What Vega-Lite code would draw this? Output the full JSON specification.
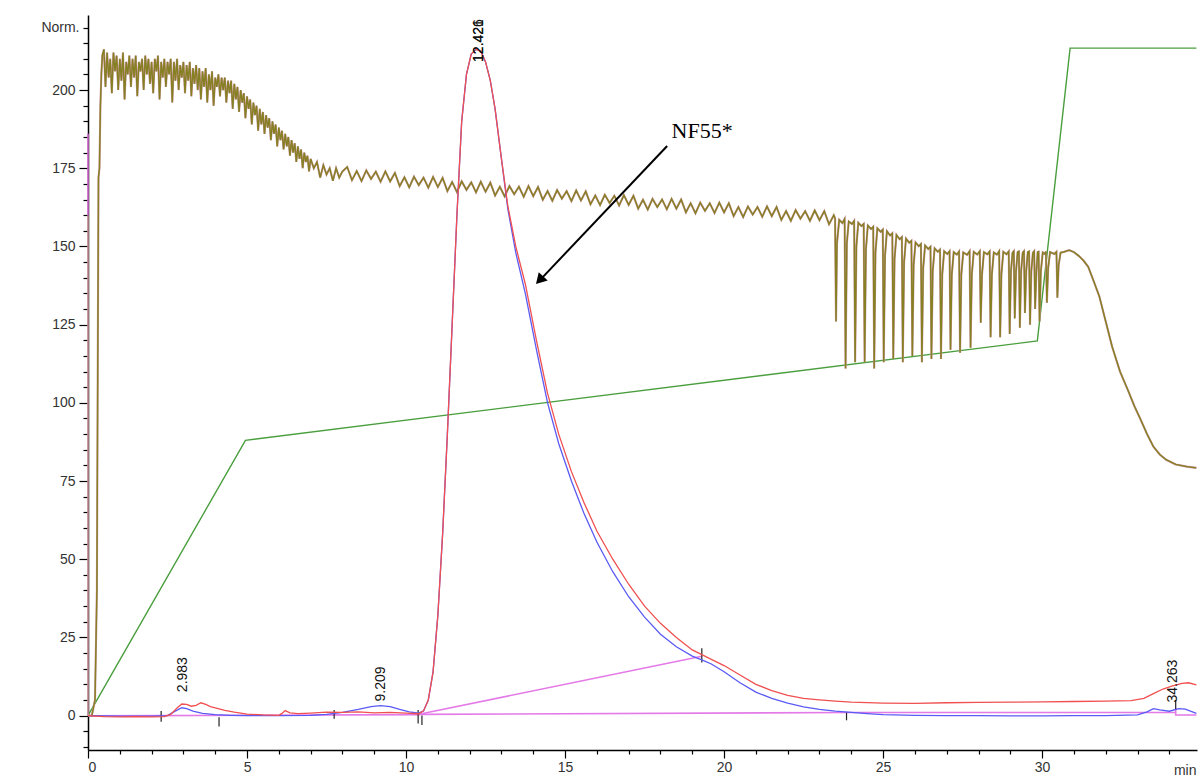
{
"$schema": "https://vega.github.io/schema/vega-lite/v6.json",
"width": 1109, "height": 735,
"autosize": {"type": "none"},
"padding": {"left": 88, "top": 15, "right": 5, "bottom": 33},
"background": "white",
"config": {"view": {"stroke": null}, "font": "Liberation Sans"},
"datasets": {
"green": [{"t":0,"v":0},{"t":4.95,"v":88},{"t":29.85,"v":119.8},{"t":30.88,"v":213.4},{"t":34.85,"v":213.4}],
"pink": [
{"s":"a","o":1,"t":0.1,"v":-0.1},{"s":"a","o":2,"t":10.45,"v":0.3},
{"s":"b","o":1,"t":10.45,"v":0.5},{"s":"b","o":2,"t":19.3,"v":19},
{"s":"c","o":1,"t":10.45,"v":0.4},{"s":"c","o":2,"t":23.85,"v":1.0},{"s":"c","o":3,"t":34.2,"v":1.0},
{"s":"d","o":1,"t":34.2,"v":2.5},{"s":"d","o":2,"t":34.2,"v":0.2},{"s":"d","o":3,"t":34.85,"v":0.2},
{"s":"e","o":1,"t":0,"v":160},{"s":"e","o":2,"t":0,"v":186},
{"s":"f","o":1,"t":0,"v":0},{"s":"f","o":2,"t":0,"v":160}],
"ticks": [{"t":2.3,"v":-2,"v2":1.5},{"t":4.12,"v":-3.5,"v2":-0.5},{"t":7.74,"v":-1,"v2":1.8},{"t":10.38,"v":-2.5,"v2":1.8},{"t":10.5,"v":-3,"v2":0},{"t":19.3,"v":17,"v2":21.5},{"t":23.85,"v":-1.5,"v2":1},{"t":34.2,"v":2,"v2":5}],
"brown": [
{"t":0,"v":0},{"t":0.12,"v":0},{"t":0.22,"v":5},{"t":0.28,"v":40},{"t":0.31,"v":120},{"t":0.33,"v":172},{"t":0.36,"v":175},{"t":0.39,"v":195},{"t":0.42,"v":205},
{"t":0.45,"v":211},{"t":0.50,"v":213},{"t":0.55,"v":201},{"t":0.60,"v":212},{"t":0.65,"v":204},{"t":0.70,"v":210},{"t":0.75,"v":199},{"t":0.80,"v":212},{"t":0.85,"v":206},{"t":0.90,"v":211},{"t":0.95,"v":200},
{"t":1.00,"v":210},{"t":1.05,"v":203},{"t":1.10,"v":212},{"t":1.15,"v":197},{"t":1.20,"v":209},{"t":1.25,"v":205},{"t":1.30,"v":211},{"t":1.35,"v":201},{"t":1.40,"v":210},{"t":1.45,"v":204},{"t":1.50,"v":211},{"t":1.55,"v":198},{"t":1.60,"v":209},{"t":1.65,"v":206},{"t":1.70,"v":210},{"t":1.75,"v":200},{"t":1.80,"v":211},{"t":1.85,"v":205},{"t":1.90,"v":210},{"t":1.95,"v":202},
{"t":2.00,"v":209},{"t":2.05,"v":199},{"t":2.10,"v":210},{"t":2.15,"v":206},{"t":2.20,"v":211},{"t":2.25,"v":197},{"t":2.30,"v":209},{"t":2.35,"v":204},{"t":2.40,"v":210},{"t":2.45,"v":201},{"t":2.50,"v":209},{"t":2.55,"v":205},{"t":2.60,"v":210},{"t":2.65,"v":196},{"t":2.70,"v":209},{"t":2.75,"v":203},{"t":2.80,"v":210},{"t":2.85,"v":200},{"t":2.90,"v":208},{"t":2.95,"v":204},
{"t":3.00,"v":209},{"t":3.05,"v":199},{"t":3.10,"v":208},{"t":3.15,"v":203},{"t":3.20,"v":209},{"t":3.25,"v":198},{"t":3.30,"v":207},{"t":3.35,"v":202},{"t":3.40,"v":208},{"t":3.45,"v":200},{"t":3.50,"v":207},{"t":3.55,"v":197},{"t":3.60,"v":206},{"t":3.65,"v":201},{"t":3.70,"v":207},{"t":3.75,"v":196},{"t":3.80,"v":205},{"t":3.85,"v":200},{"t":3.90,"v":206},{"t":3.95,"v":195},
{"t":4.00,"v":204},{"t":4.05,"v":201},{"t":4.10,"v":205},{"t":4.15,"v":198},{"t":4.20,"v":204},{"t":4.25,"v":200},{"t":4.30,"v":204},{"t":4.35,"v":196},{"t":4.40,"v":203},{"t":4.45,"v":199},{"t":4.50,"v":203},{"t":4.55,"v":194},{"t":4.60,"v":202},{"t":4.65,"v":197},{"t":4.70,"v":201},{"t":4.75,"v":193},{"t":4.80,"v":200},{"t":4.85,"v":196},{"t":4.90,"v":199},{"t":4.95,"v":191},
{"t":5.00,"v":198},{"t":5.05,"v":194},{"t":5.10,"v":197},{"t":5.15,"v":189},{"t":5.20,"v":196},{"t":5.25,"v":192},{"t":5.30,"v":195},{"t":5.35,"v":187},{"t":5.40,"v":194},{"t":5.45,"v":189},{"t":5.50,"v":193},{"t":5.55,"v":186},{"t":5.60,"v":192},{"t":5.65,"v":188},{"t":5.70,"v":191},{"t":5.75,"v":184},{"t":5.80,"v":190},{"t":5.85,"v":186},{"t":5.90,"v":189},{"t":5.95,"v":182},
{"t":6.00,"v":188},{"t":6.05,"v":184},{"t":6.10,"v":187},{"t":6.15,"v":181},{"t":6.20,"v":186},{"t":6.25,"v":182},{"t":6.30,"v":185},{"t":6.35,"v":179},{"t":6.40,"v":184},{"t":6.45,"v":180},{"t":6.50,"v":183},{"t":6.55,"v":177},{"t":6.60,"v":182},{"t":6.65,"v":178},{"t":6.70,"v":181},{"t":6.75,"v":175},{"t":6.80,"v":180},{"t":6.85,"v":177},{"t":6.90,"v":179},{"t":6.95,"v":174},
{"t":7.00,"v":178},{"t":7.10,"v":175},{"t":7.20,"v":177},{"t":7.30,"v":172},{"t":7.40,"v":176},{"t":7.50,"v":173},{"t":7.60,"v":175},{"t":7.70,"v":171},{"t":7.80,"v":175},{"t":7.90,"v":172},{"t":8.00,"v":174},
{"t":8.15,"v":175.4},{"t":8.30,"v":171.2},{"t":8.45,"v":174.1},{"t":8.60,"v":170.9},{"t":8.75,"v":174.3},{"t":8.90,"v":171.6},{"t":9.05,"v":173.9},{"t":9.20,"v":170.7},{"t":9.35,"v":174.0},{"t":9.50,"v":170.8},{"t":9.65,"v":173.5},{"t":9.80,"v":169.3},{"t":9.95,"v":172.1},
{"t":10.10,"v":168.9},{"t":10.25,"v":172.3},{"t":10.40,"v":169.6},{"t":10.55,"v":172.0},{"t":10.70,"v":168.8},{"t":10.85,"v":172.2},{"t":11.00,"v":169.0},{"t":11.15,"v":171.9},{"t":11.30,"v":167.7},{"t":11.45,"v":170.6},{"t":11.60,"v":167.4},{"t":11.75,"v":170.8},{"t":11.90,"v":168.1},
{"t":12.05,"v":170.5},{"t":12.20,"v":167.3},{"t":12.35,"v":170.7},{"t":12.50,"v":167.5},{"t":12.65,"v":170.4},{"t":12.80,"v":166.3},{"t":12.95,"v":169.1},{"t":13.10,"v":166.0},{"t":13.25,"v":169.3},{"t":13.40,"v":166.7},{"t":13.55,"v":169.1},{"t":13.70,"v":165.9},{"t":13.85,"v":169.3},
{"t":14.00,"v":166.1},{"t":14.15,"v":169.0},{"t":14.30,"v":164.9},{"t":14.45,"v":167.7},{"t":14.60,"v":164.6},{"t":14.75,"v":168.0},{"t":14.90,"v":165.3},{"t":15.05,"v":167.7},{"t":15.20,"v":164.5},{"t":15.35,"v":167.9},{"t":15.50,"v":164.7},{"t":15.65,"v":167.6},{"t":15.80,"v":163.5},{"t":15.95,"v":166.3},
{"t":16.10,"v":163.2},{"t":16.25,"v":166.5},{"t":16.40,"v":163.9},{"t":16.55,"v":166.2},{"t":16.70,"v":163.1},{"t":16.85,"v":166.4},{"t":17.00,"v":163.3},{"t":17.15,"v":166.2},{"t":17.30,"v":162.1},{"t":17.45,"v":164.9},{"t":17.60,"v":161.8},{"t":17.75,"v":165.2},{"t":17.90,"v":162.6},
{"t":18.05,"v":165.0},{"t":18.20,"v":161.9},{"t":18.35,"v":165.2},{"t":18.50,"v":162.1},{"t":18.65,"v":165.0},{"t":18.80,"v":160.9},{"t":18.95,"v":163.8},{"t":19.10,"v":160.6},{"t":19.25,"v":164.0},{"t":19.40,"v":161.4},{"t":19.55,"v":163.8},{"t":19.70,"v":160.7},{"t":19.85,"v":164.0},
{"t":20.00,"v":160.9},{"t":20.15,"v":163.8},{"t":20.30,"v":159.7},{"t":20.45,"v":162.6},{"t":20.60,"v":159.4},{"t":20.75,"v":162.8},{"t":20.90,"v":160.2},{"t":21.05,"v":162.6},{"t":21.20,"v":159.5},{"t":21.35,"v":162.8},{"t":21.50,"v":159.7},{"t":21.65,"v":162.6},{"t":21.80,"v":158.5},{"t":21.95,"v":161.3},
{"t":22.10,"v":158.2},{"t":22.25,"v":161.6},{"t":22.40,"v":158.9},{"t":22.55,"v":161.3},{"t":22.70,"v":158.2},{"t":22.85,"v":161.5},{"t":23.00,"v":158.4},{"t":23.15,"v":161.3},{"t":23.30,"v":157.1},{"t":23.45,"v":160.0},
{"t":23.49,"v":159},{"t":23.52,"v":126},{"t":23.55,"v":151},{"t":23.62,"v":158.5},{"t":23.72,"v":157.5},
{"t":23.79,"v":158.8},{"t":23.82,"v":111},{"t":23.86,"v":151},{"t":23.92,"v":158},{"t":24.02,"v":157.2},
{"t":24.09,"v":158.2},{"t":24.12,"v":113},{"t":24.16,"v":150},{"t":24.22,"v":157.6},{"t":24.32,"v":156.5},
{"t":24.39,"v":157.2},{"t":24.42,"v":113},{"t":24.46,"v":149},{"t":24.52,"v":156.7},{"t":24.62,"v":155.6},
{"t":24.69,"v":156.3},{"t":24.72,"v":111},{"t":24.76,"v":148},{"t":24.82,"v":155.8},{"t":24.92,"v":154.7},
{"t":24.99,"v":155.4},{"t":25.02,"v":113},{"t":25.06,"v":147},{"t":25.12,"v":154.9},{"t":25.22,"v":153.5},
{"t":25.29,"v":154.2},{"t":25.32,"v":114},{"t":25.36,"v":146},{"t":25.42,"v":153.7},{"t":25.52,"v":152.3},
{"t":25.59,"v":153.0},{"t":25.62,"v":113},{"t":25.66,"v":145},{"t":25.72,"v":152.5},{"t":25.82,"v":151.2},
{"t":25.89,"v":151.8},{"t":25.92,"v":115},{"t":25.96,"v":144},{"t":26.02,"v":151.3},{"t":26.12,"v":150.1},
{"t":26.19,"v":150.8},{"t":26.22,"v":113},{"t":26.26,"v":143},{"t":26.32,"v":150.3},{"t":26.42,"v":149.2},
{"t":26.49,"v":149.9},{"t":26.52,"v":114},{"t":26.56,"v":142},{"t":26.62,"v":149.4},{"t":26.72,"v":148.3},
{"t":26.79,"v":149.0},{"t":26.82,"v":114},{"t":26.86,"v":141},{"t":26.92,"v":148.5},{"t":27.02,"v":147.6},
{"t":27.09,"v":148.5},{"t":27.12,"v":117},{"t":27.16,"v":141},{"t":27.22,"v":148.2},{"t":27.32,"v":147.4},
{"t":27.39,"v":148.4},{"t":27.42,"v":116},{"t":27.46,"v":141},{"t":27.52,"v":148.1},{"t":27.64,"v":147.3},
{"t":27.72,"v":148.5},{"t":27.75,"v":117.6},{"t":27.79,"v":141},{"t":27.85,"v":148.3},{"t":27.96,"v":147.4},
{"t":28.04,"v":148.5},{"t":28.07,"v":125.6},{"t":28.11,"v":141},{"t":28.17,"v":148.2},{"t":28.28,"v":147.5},
{"t":28.35,"v":148.4},{"t":28.38,"v":121},{"t":28.42,"v":141},{"t":28.48,"v":148.1},{"t":28.58,"v":147.4},
{"t":28.65,"v":148.5},{"t":28.68,"v":121},{"t":28.72,"v":141},{"t":28.78,"v":148.3},{"t":28.88,"v":147.5},
{"t":28.95,"v":148.4},{"t":28.98,"v":122},{"t":29.02,"v":142},{"t":29.07,"v":148},
{"t":29.11,"v":148.5},{"t":29.14,"v":127},{"t":29.18,"v":142},{"t":29.23,"v":148.2},
{"t":29.27,"v":148.4},{"t":29.30,"v":124},{"t":29.34,"v":142},{"t":29.39,"v":148},
{"t":29.43,"v":148.5},{"t":29.46,"v":128.7},{"t":29.50,"v":142},{"t":29.55,"v":148.2},
{"t":29.59,"v":148.4},{"t":29.62,"v":125},{"t":29.66,"v":142},{"t":29.71,"v":148},
{"t":29.75,"v":148.5},{"t":29.78,"v":130},{"t":29.82,"v":142},{"t":29.86,"v":148.2},
{"t":29.89,"v":148.3},{"t":29.92,"v":126},{"t":29.96,"v":142},{"t":30.02,"v":148.1},{"t":30.09,"v":147.6},
{"t":30.12,"v":148.4},{"t":30.15,"v":132},{"t":30.19,"v":143},{"t":30.25,"v":148.2},{"t":30.38,"v":147.6},
{"t":30.45,"v":148.3},{"t":30.48,"v":133.6},{"t":30.52,"v":144},{"t":30.58,"v":148},
{"t":30.7,"v":148.3},{"t":30.85,"v":148.8},{"t":31.0,"v":148.2},{"t":31.15,"v":147},{"t":31.3,"v":145.5},{"t":31.45,"v":143.5},{"t":31.6,"v":139.5},{"t":31.8,"v":134},{"t":32.0,"v":126},{"t":32.2,"v":118},{"t":32.45,"v":110},{"t":32.7,"v":104},{"t":32.9,"v":99},{"t":33.1,"v":94.6},{"t":33.3,"v":90},{"t":33.5,"v":86},{"t":33.7,"v":83.5},{"t":33.9,"v":81.8},{"t":34.2,"v":80.3},{"t":34.55,"v":79.6},{"t":34.85,"v":79.2}
],
"red": [
{"t":0,"v":0},{"t":0.5,"v":-0.3},{"t":1,"v":-0.4},{"t":1.5,"v":-0.3},{"t":2,"v":-0.4},{"t":2.4,"v":-0.3},{"t":2.6,"v":0.4},{"t":2.8,"v":2.4},{"t":2.95,"v":3.7},{"t":3.1,"v":3.6},{"t":3.25,"v":3.0},{"t":3.4,"v":3.3},{"t":3.55,"v":4.1},{"t":3.7,"v":3.6},{"t":3.85,"v":2.9},{"t":4.0,"v":2.5},{"t":4.3,"v":1.7},{"t":4.6,"v":1.1},{"t":5.0,"v":0.5},{"t":5.5,"v":0.2},{"t":6.0,"v":0.1},{"t":6.1,"v":0.7},{"t":6.2,"v":1.6},{"t":6.35,"v":0.9},{"t":6.6,"v":0.6},{"t":7.0,"v":0.8},{"t":7.5,"v":1.1},{"t":8.0,"v":1.0},{"t":8.5,"v":1.2},{"t":9.0,"v":0.9},{"t":9.5,"v":1.0},{"t":10.0,"v":0.8},{"t":10.4,"v":0.6},{"t":10.55,"v":1.5},{"t":10.7,"v":5},{"t":10.85,"v":14},{"t":11.0,"v":32},{"t":11.15,"v":58},{"t":11.3,"v":90},{"t":11.45,"v":125},{"t":11.6,"v":160},{"t":11.75,"v":190},{"t":11.9,"v":205},{"t":12.05,"v":211.5},{"t":12.2,"v":213},{"t":12.35,"v":212.5},{"t":12.5,"v":209},{"t":12.65,"v":203},{"t":12.8,"v":194},{"t":13.0,"v":178},{"t":13.2,"v":163},{"t":13.45,"v":150},{"t":13.75,"v":138},{"t":14.1,"v":120},{"t":14.45,"v":103},{"t":14.8,"v":90},{"t":15.2,"v":78},{"t":15.6,"v":68},{"t":16.0,"v":59},{"t":16.5,"v":50},{"t":17.0,"v":42},{"t":17.5,"v":35},{"t":18.0,"v":29.5},{"t":18.5,"v":25},{"t":19.0,"v":21},{"t":19.3,"v":19.5},{"t":19.6,"v":18},{"t":20.0,"v":16},{"t":20.5,"v":13},{"t":21.0,"v":10},{"t":21.5,"v":8},{"t":22.0,"v":6.5},{"t":22.5,"v":5.5},{"t":23.0,"v":5},{"t":23.5,"v":4.6},{"t":24.0,"v":4.3},{"t":25,"v":4.0},{"t":26,"v":3.9},{"t":27,"v":4.1},{"t":28,"v":4.2},{"t":29,"v":4.3},{"t":30,"v":4.4},{"t":31,"v":4.5},{"t":32,"v":4.6},{"t":32.8,"v":4.8},{"t":33.2,"v":5.5},{"t":33.5,"v":7.0},{"t":33.8,"v":8.5},{"t":34.1,"v":9.5},{"t":34.4,"v":10.3},{"t":34.6,"v":10.5},{"t":34.85,"v":9.8}],
"blue": [
{"t":0,"v":0},{"t":1,"v":-0.2},{"t":2,"v":-0.2},{"t":2.5,"v":0},{"t":2.7,"v":1.2},{"t":2.95,"v":2.5},{"t":3.1,"v":2.2},{"t":3.3,"v":1.4},{"t":3.6,"v":0.7},{"t":4.0,"v":0.3},{"t":4.5,"v":0.1},{"t":5,"v":0},{"t":6,"v":0},{"t":7,"v":0.1},{"t":7.5,"v":0.4},{"t":8.0,"v":1.0},{"t":8.5,"v":2.0},{"t":8.9,"v":2.9},{"t":9.2,"v":3.2},{"t":9.5,"v":2.9},{"t":9.8,"v":2.0},{"t":10.1,"v":1.2},{"t":10.4,"v":0.8},{"t":10.55,"v":1.5},{"t":10.7,"v":5},{"t":10.85,"v":14},{"t":11.0,"v":32},{"t":11.15,"v":58},{"t":11.3,"v":90},{"t":11.45,"v":125},{"t":11.6,"v":160},{"t":11.75,"v":190},{"t":11.9,"v":205},{"t":12.05,"v":211.5},{"t":12.2,"v":213},{"t":12.35,"v":212.5},{"t":12.5,"v":209},{"t":12.65,"v":203},{"t":12.8,"v":194},{"t":13.0,"v":178},{"t":13.2,"v":162},{"t":13.45,"v":148},{"t":13.75,"v":135},{"t":14.1,"v":117},{"t":14.45,"v":100},{"t":14.8,"v":87},{"t":15.2,"v":75},{"t":15.6,"v":64.5},{"t":16.0,"v":55.5},{"t":16.5,"v":46},{"t":17.0,"v":38},{"t":17.5,"v":31.5},{"t":18.0,"v":26},{"t":18.5,"v":22},{"t":19.0,"v":19},{"t":19.3,"v":17.8},{"t":19.6,"v":16.5},{"t":20.0,"v":14},{"t":20.5,"v":10.5},{"t":21.0,"v":7.5},{"t":21.5,"v":5.5},{"t":22.0,"v":4},{"t":22.5,"v":2.8},{"t":23.0,"v":2},{"t":23.5,"v":1.4},{"t":24.0,"v":1},{"t":24.5,"v":0.6},{"t":25,"v":0.3},{"t":26,"v":0.1},{"t":27,"v":0},{"t":28,"v":0},{"t":29,"v":-0.1},{"t":30,"v":-0.1},{"t":31,"v":0},{"t":32,"v":0},{"t":33,"v":0.2},{"t":33.3,"v":1.2},{"t":33.5,"v":2.2},{"t":33.7,"v":1.8},{"t":34.0,"v":1.4},{"t":34.3,"v":2.2},{"t":34.5,"v":2.1},{"t":34.85,"v":0.7}],
"labels": [{"t":2.98,"v":7.5,"label":"2.983"},{"t":9.2,"v":4.5,"label":"9.209"},{"t":12.3,"v":209,"label":"12.421"},{"t":12.3,"v":209,"label":"12.426"},{"t":34.1,"v":4.2,"label":"34.263"}],
"arrow": [{"t":18.21,"v":182.1,"t2":14.15,"v2":138.6}],
"head": [{"t":14.2,"v":139.2}],
"note": [{"t":18.35,"v":187,"label":"NF55*"}]
},
"encoding": {
"x": {"field": "t", "type": "quantitative", "scale": {"domain": [0, 34.87], "nice": false, "zero": false},
 "axis": {"values": [0,1,2,3,4,5,6,7,8,9,10,11,12,13,14,15,16,17,18,19,20,21,22,23,24,25,26,27,28,29,30,31,32,33,34],
  "labelExpr": "datum.value % 5 === 0 ? datum.label : ''", "grid": false,
  "tickSize": {"condition": {"test": "datum.value % 5 === 0", "value": 8}, "value": 4},
  "domainColor": "#000", "domainWidth": 1.5, "tickColor": "#000", "tickWidth": 1.2,
  "labelFontSize": 14, "labelColor": "#333", "labelPadding": 2, "labelFont": "Liberation Sans",
  "title": "min", "titleAnchor": "end", "titleAlign": "right", "titleX": 1108, "titleY": 24, "titleBaseline": "alphabetic",
  "titleFontSize": 14, "titleFontWeight": "normal", "titleColor": "#333", "titleFont": "Liberation Sans"}},
"y": {"field": "v", "type": "quantitative", "scale": {"domain": [-11, 224], "nice": false, "zero": false},
 "axis": {"values": [-10,-5,0,5,10,15,20,25,30,35,40,45,50,55,60,65,70,75,80,85,90,95,100,105,110,115,120,125,130,135,140,145,150,155,160,165,170,175,180,185,190,195,200,205,210,215,220],
  "labelExpr": "datum.value === 220 ? 'Norm.' : ((datum.value % 25 === 0 && datum.value >= 0) ? datum.label : '')", "grid": false,
  "tickSize": {"condition": {"test": "datum.value % 25 === 0 && datum.value >= 0", "value": 9}, "value": 5},
  "domainColor": "#000", "domainWidth": 1.5, "tickColor": "#000", "tickWidth": 1.2,
  "labelFontSize": 14, "labelColor": "#333", "labelPadding": 4, "labelFont": "Liberation Sans", "title": null}}
},
"layer": [
{"data": {"name": "green"}, "mark": {"type": "line", "color": "#4a9e3e", "strokeWidth": 1.4}},
{"data": {"name": "pink"}, "mark": {"type": "line", "strokeWidth": 1.6},
 "encoding": {"detail": {"field": "s"}, "order": {"field": "o", "type": "quantitative"},
  "color": {"field": "s", "type": "nominal", "legend": null, "scale": {"domain": ["a","b","c","d","e","f"], "range": ["#e47ae8","#e47ae8","#e47ae8","#e47ae8","#d86ad8","#c9949c"]}}}},
{"data": {"name": "ticks"}, "mark": {"type": "rule", "color": "#222", "strokeWidth": 1.2}, "encoding": {"y2": {"field": "v2"}}},
{"data": {"name": "brown"}, "mark": {"type": "line", "color": "#cf96a4", "strokeWidth": 2.1}},
{"data": {"name": "brown"}, "mark": {"type": "line", "color": "#858022", "strokeWidth": 1.4}},
{"data": {"name": "blue"}, "mark": {"type": "line", "color": "#5a5af5", "strokeWidth": 1.3}},
{"data": {"name": "red"}, "mark": {"type": "line", "color": "#f05050", "strokeWidth": 1.3}},
{"data": {"name": "labels"}, "mark": {"type": "text", "angle": 270, "align": "left", "baseline": "middle", "fontSize": 14, "font": "Liberation Sans", "color": "#111"}, "encoding": {"text": {"field": "label"}}},
{"data": {"name": "arrow"}, "mark": {"type": "rule", "color": "#000", "strokeWidth": 2}, "encoding": {"x2": {"field": "t2"}, "y2": {"field": "v2"}}},
{"data": {"name": "head"}, "mark": {"type": "point", "shape": "triangle-up", "filled": true, "color": "#000", "size": 150, "angle": 223, "opacity": 1}},
{"data": {"name": "note"}, "mark": {"type": "text", "align": "left", "baseline": "middle", "fontSize": 22, "font": "Liberation Serif", "color": "#000"}, "encoding": {"text": {"field": "label"}}}
]
}
